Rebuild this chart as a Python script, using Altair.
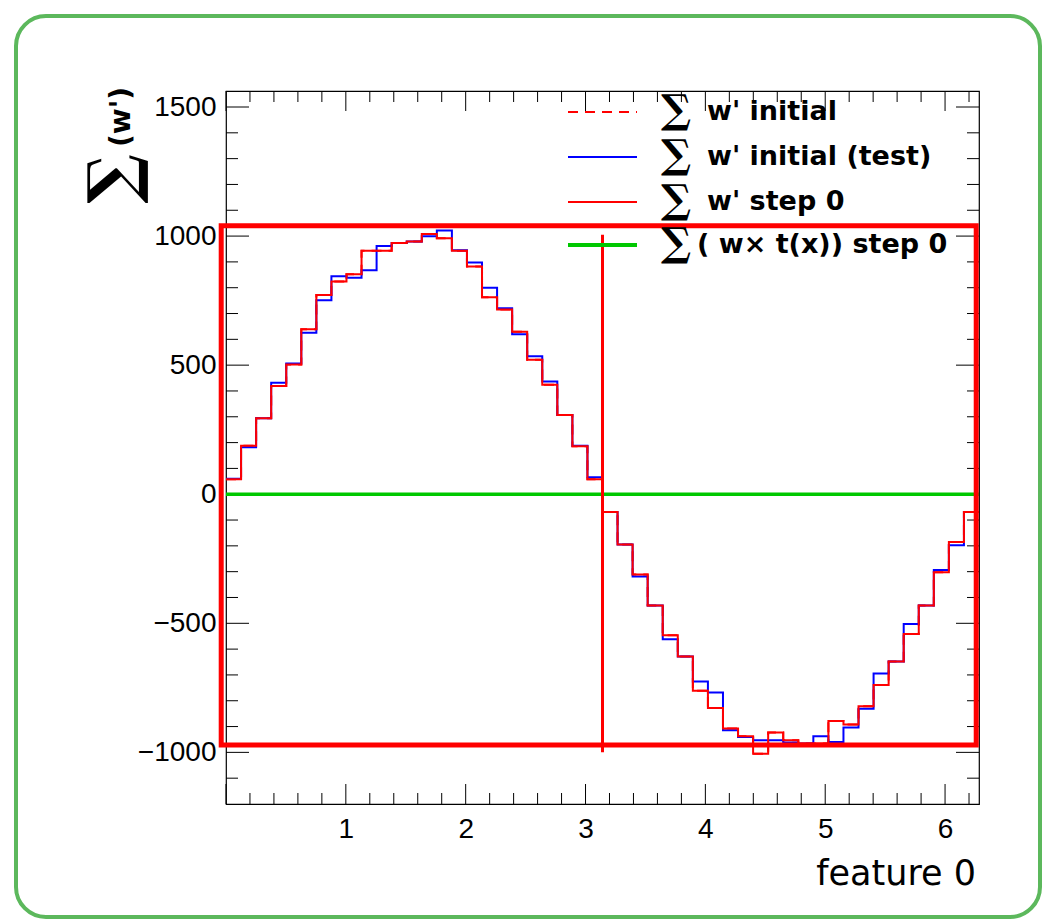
import math
import altair as alt
import pandas as pd

# Histogram binning: 50 equal bins over [0, 2*pi]
N_BINS = 50
X_MAX = 2 * math.pi
Y_MIN, Y_MAX = -1200, 1562

# Per-bin sums of weights
w_step0 = [58, 188, 294, 419, 503, 639, 772, 824, 852, 943,
           943, 973, 979, 1008, 992, 943, 882, 763, 716, 629,
           521, 424, 307, 186, 58, -69, -195, -311, -431, -546,
           -629, -761, -828, -908, -938, -1005, -923, -953, -966, -966,
           -878, -892, -821, -739, -648, -541, -431, -302, -185, -69]
w_initial_test = [60, 182, 294, 432, 506, 626, 751, 844, 839, 868,
                  962, 973, 979, 999, 1022, 945, 898, 800, 720, 620,
                  534, 437, 307, 188, 66, -69, -195, -319, -431, -562,
                  -629, -725, -768, -914, -940, -953, -953, -962, -966, -938,
                  -960, -904, -831, -694, -648, -503, -431, -294, -198, -69]
w_initial = list(w_step0)
wt_step0 = [0] * N_BINS

# Marker line at x = pi and the highlighted region
pi_line = {"x": [math.pi], "y": [-1000], "y2": [1005]}
highlight = {"x": [-0.04], "x2": [6.26], "y": [-971], "y2": [1040]}

# Axis tick positions and labels
x_major = [0, 1, 2, 3, 4, 5, 6]
x_minor = [round(0.2 * i, 1) for i in range(32) if i % 5 != 0]
x_labels = [1, 2, 3, 4, 5, 6]
y_major = [-1000, -500, 0, 500, 1000, 1500]
y_minor = [v for v in range(-1100, 1600, 100) if v % 500 != 0]

legend_labels = ["w' initial", "w' initial (test)", "w' step 0", "( w\u00d7 t(x)) step 0"]

W, H = 753, 713
FONT = "DejaVu Sans"
LABEL_FONT = "Liberation Sans"

xscale = alt.Scale(domain=[0, X_MAX], nice=False, zero=False)
yscale = alt.Scale(domain=[Y_MIN, Y_MAX], nice=False, zero=False)
xaxis = alt.Axis(values=x_labels, format="d", ticks=False, domain=False, grid=False,
                 labelFont=LABEL_FONT, labelFontSize=28, labelColor="black",
                 labelPadding=11, title=None, labelFlush=False)
yaxis = alt.Axis(values=y_major, format="d", ticks=False, domain=False, grid=False,
                 labelFont=LABEL_FONT, labelFontSize=28, labelColor="black",
                 labelPadding=10, title=None)


def X(field="x"):
    return alt.X(f"{field}:Q", scale=xscale, axis=xaxis)


def Y(field="y"):
    return alt.Y(f"{field}:Q", scale=yscale, axis=yaxis)


def step_frame(values):
    width = X_MAX / N_BINS
    xs = [i * width for i in range(N_BINS + 1)]
    ys = list(values) + [values[-1]]
    return pd.DataFrame({"x": xs, "y": ys})


def hist(values, color, width=2, dash=None):
    kw = dict(interpolate="step-after", color=color, strokeWidth=width)
    if dash:
        kw["strokeDash"] = dash
    return alt.Chart(step_frame(values)).mark_line(**kw).encode(x=X(), y=Y())


blank = pd.DataFrame({"k": [0]})

# Rounded outer border
border = alt.Chart(blank).mark_rect(
    cornerRadius=30, fillOpacity=0, stroke="#5cb85c", strokeWidth=4
).encode(x=alt.value(-210), x2=alt.value(814), y=alt.value(-75), y2=alt.value(826))

layers = [border]

# Inward ticks on all four sides
xmaj = pd.DataFrame({"x": x_major})
xmin = pd.DataFrame({"x": x_minor})
ymaj = pd.DataFrame({"y": y_major})
ymin = pd.DataFrame({"y": y_minor})
tick = dict(color="black", strokeWidth=1)
for df, ln in ((xmaj, 20), (xmin, 11)):
    layers.append(alt.Chart(df).mark_rule(**tick).encode(x=X(), y=alt.value(H), y2=alt.value(H - ln)))
    layers.append(alt.Chart(df).mark_rule(**tick).encode(x=X(), y=alt.value(0), y2=alt.value(ln)))
for df, ln in ((ymaj, 23), (ymin, 12)):
    layers.append(alt.Chart(df).mark_rule(**tick).encode(y=Y(), x=alt.value(0), x2=alt.value(ln)))
    layers.append(alt.Chart(df).mark_rule(**tick).encode(y=Y(), x=alt.value(W), x2=alt.value(W - ln)))

# Histograms
layers.append(hist(wt_step0, "#00c800", width=3.5))
layers.append(hist(w_initial, "#ff0000", dash=[10, 7]))
layers.append(hist(w_initial_test, "#0000ff"))
layers.append(hist(w_step0, "#ff0000"))

# Vertical marker at pi
layers.append(
    alt.Chart(pd.DataFrame(pi_line)).mark_rule(color="#ff0000", strokeWidth=3)
    .encode(x=X(), y=Y(), y2="y2:Q")
)

# Highlight box
layers.append(
    alt.Chart(pd.DataFrame(highlight)).mark_rect(fillOpacity=0, stroke="#ff0000", strokeWidth=5)
    .encode(x=X(), x2="x2:Q", y=Y(), y2="y2:Q")
)

# Legend
legend_rows = [21, 66, 111, 154]
legend_styles = [
    dict(color="#ff0000", strokeWidth=2, strokeDash=[10, 7]),
    dict(color="#0000ff", strokeWidth=2),
    dict(color="#ff0000", strokeWidth=2),
    dict(color="#00c800", strokeWidth=4),
]
for i, (label, ry, st) in enumerate(zip(legend_labels, legend_rows, legend_styles)):
    layers.append(alt.Chart(blank).mark_rule(**st).encode(
        x=alt.value(342), x2=alt.value(411), y=alt.value(ry)))
    layers.append(alt.Chart(blank).mark_text(
        text="\u2211", font="DejaVu Serif", fontSize=40, fontWeight="bold", align="center",
        baseline="middle", color="black").encode(x=alt.value(450), y=alt.value(ry - 1)))
    layers.append(alt.Chart(blank).mark_text(
        text=label, font=FONT, fontSize=27, fontWeight="bold", align="left",
        baseline="middle", color="black").encode(
        x=alt.value(471 if i == 3 else 481), y=alt.value(ry)))

# Axis titles
layers.append(alt.Chart(blank).mark_text(
    text="\u2211", font="DejaVu Serif", fontSize=66, fontWeight="bold", angle=270,
    align="center", baseline="middle", color="black").encode(x=alt.value(-111), y=alt.value(88)))
layers.append(alt.Chart(blank).mark_text(
    text="(w')", font=FONT, fontSize=28, fontWeight="bold", angle=270,
    align="center", baseline="middle", color="black").encode(x=alt.value(-104), y=alt.value(26)))
layers.append(alt.Chart(blank).mark_text(
    text="feature 0", font=FONT, fontSize=35, align="right",
    baseline="alphabetic", color="black").encode(x=alt.value(750), y=alt.value(794)))

chart = alt.layer(*layers).properties(
    width=W, height=H,
    autosize=alt.AutoSizeParams(type="none"),
    padding={"left": 226, "top": 91, "right": 71, "bottom": 116},
    background="white",
).configure_view(stroke="black", strokeWidth=1.2)

chart.save("out.html", embed_options={"renderer": "svg", "actions": False})
